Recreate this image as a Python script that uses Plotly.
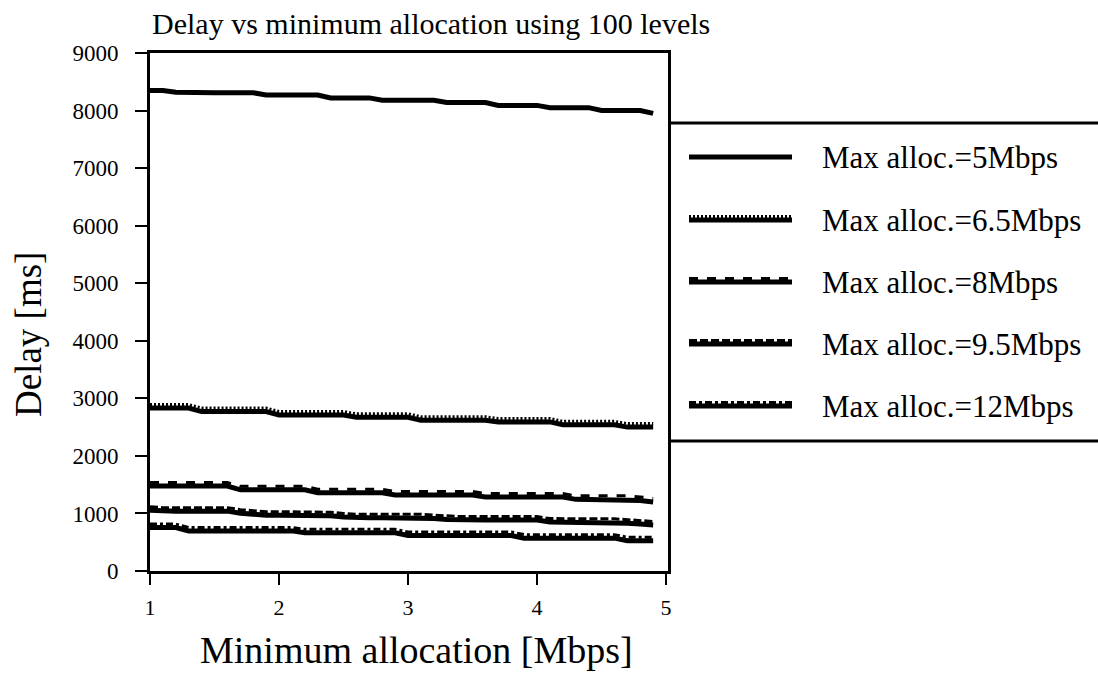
import plotly.graph_objects as go

# ---------------- data ----------------
min_alloc = [1.0, 1.1, 1.2, 1.3, 1.4, 1.5, 1.6, 1.7, 1.8, 1.9,
             2.0, 2.1, 2.2, 2.3, 2.4, 2.5, 2.6, 2.7, 2.8, 2.9,
             3.0, 3.1, 3.2, 3.3, 3.4, 3.5, 3.6, 3.7, 3.8, 3.9,
             4.0, 4.1, 4.2, 4.3, 4.4, 4.5, 4.6, 4.7, 4.8, 4.9]

delay_5 = [8350, 8350, 8320, 8310, 8310, 8310, 8310, 8310, 8310, 8270,
           8270, 8270, 8270, 8270, 8220, 8220, 8220, 8220, 8180, 8180,
           8180, 8180, 8180, 8140, 8140, 8140, 8140, 8090, 8090, 8090,
           8090, 8050, 8050, 8050, 8050, 8000, 8000, 8000, 8000, 7950]

delay_6_5 = [2830, 2830, 2830, 2830, 2770, 2770, 2770, 2770, 2770, 2770,
             2710, 2710, 2710, 2710, 2710, 2710, 2670, 2670, 2670, 2670,
             2670, 2620, 2620, 2620, 2620, 2620, 2620, 2590, 2590, 2590,
             2590, 2590, 2540, 2540, 2540, 2540, 2540, 2500, 2500, 2500]

delay_8 = [1475, 1475, 1475, 1475, 1475, 1475, 1475, 1410, 1410, 1410,
           1410, 1410, 1410, 1360, 1360, 1360, 1360, 1360, 1360, 1320,
           1320, 1320, 1320, 1320, 1320, 1320, 1285, 1285, 1285, 1285,
           1285, 1285, 1285, 1245, 1245, 1245, 1245, 1245, 1225, 1200]

delay_9_5 = [1055, 1040, 1040, 1040, 1040, 1040, 1040, 1005, 985, 970,
             970, 970, 970, 970, 960, 940, 926, 926, 926, 926,
             926, 926, 910, 895, 886, 886, 886, 886, 886, 886,
             886, 850, 846, 846, 846, 846, 846, 830, 815, 800]

delay_12 = [754, 754, 754, 697, 697, 697, 697, 697, 697, 697,
            697, 697, 663, 663, 663, 663, 663, 663, 663, 663,
            617, 617, 617, 617, 617, 617, 617, 617, 617, 571,
            571, 571, 571, 571, 571, 571, 571, 526, 526, 526]

series_names = ["Max alloc.=5Mbps", "Max alloc.=6.5Mbps", "Max alloc.=8Mbps",
                "Max alloc.=9.5Mbps", "Max alloc.=12Mbps"]
series_values = [delay_5, delay_6_5, delay_8, delay_9_5, delay_12]

x_ticks = [1, 2, 3, 4, 5]

# ---------------- styling ----------------
FONT = "Liberation Serif, Times New Roman, serif"
dash_styles = [None, "2px,2px", "9px,9px", "8px,3px", "7px,3px,3px,3px"]
Y_MAX = 9000
PLOT_H = 518
MARK_SHIFT_PX = 3.5
mark_shift = MARK_SHIFT_PX * Y_MAX / PLOT_H

fig = go.Figure()
for name, vals, dash in zip(series_names, series_values, dash_styles):
    fig.add_trace(go.Scatter(x=min_alloc, y=vals, mode="lines", name=name,
                             line=dict(color="black", width=5),
                             showlegend=False, hoverinfo="x+y+name"))
    if dash is not None:
        fig.add_trace(go.Scatter(x=min_alloc, y=[v + mark_shift for v in vals],
                                 mode="lines", name=name,
                                 line=dict(color="black", width=3, dash=dash),
                                 showlegend=False, hoverinfo="skip"))

L, R, T, B = 150, 430, 53, 110
W, H = 1098, 681
plot_w = W - L - R


def px_to_xp(px):
    return (px - L) / plot_w


def py_to_yp(py):
    return (H - B - py) / PLOT_H


shapes = []
annotations = []
# legend frame (top and bottom rules)
for py in (123, 441):
    shapes.append(dict(type="line", xref="paper", yref="paper",
                       x0=1.0, x1=px_to_xp(W + 5), y0=py_to_yp(py), y1=py_to_yp(py),
                       line=dict(color="black", width=3)))

legend_ys = [157, 220, 282, 344, 406]
for name, dash, ly in zip(series_names, dash_styles, legend_ys):
    yp = py_to_yp(ly)
    shapes.append(dict(type="line", xref="paper", yref="paper",
                       x0=px_to_xp(689), x1=px_to_xp(792), y0=yp, y1=yp,
                       line=dict(color="black", width=5)))
    if dash is not None:
        shapes.append(dict(type="line", xref="paper", yref="paper",
                           ysizemode="pixel", yanchor=yp,
                           x0=px_to_xp(689), x1=px_to_xp(792),
                           y0=MARK_SHIFT_PX, y1=MARK_SHIFT_PX,
                           line=dict(color="black", width=3, dash=dash)))
    annotations.append(dict(text=name, xref="paper", yref="paper",
                            x=px_to_xp(820), y=yp, xanchor="left", yanchor="middle",
                            showarrow=False, font=dict(family=FONT, size=31, color="black")))

# title
annotations.append(dict(text="Delay vs minimum allocation using 100 levels",
                        xref="paper", yref="paper", x=0, y=1, xanchor="left",
                        yanchor="bottom", yshift=11, showarrow=False,
                        font=dict(family=FONT, size=30, color="black")))
# axis titles
annotations.append(dict(text="Delay [ms]", xref="paper", yref="paper",
                        x=0, xshift=-(L - 28), y=py_to_yp(335),
                        xanchor="center", yanchor="middle", textangle=-90,
                        showarrow=False, font=dict(family=FONT, size=37, color="black")))
annotations.append(dict(text="Minimum allocation [Mbps]", xref="paper", yref="paper",
                        x=px_to_xp(416), y=py_to_yp(650),
                        xanchor="center", yanchor="middle",
                        showarrow=False, font=dict(family=FONT, size=38, color="black")))

fig.update_layout(
    width=W, height=H,
    margin=dict(l=L, r=R, t=T, b=B),
    paper_bgcolor="white", plot_bgcolor="white",
    font=dict(family=FONT, color="black"),
    shapes=shapes, annotations=annotations,
    xaxis=dict(range=[1, 5.015], tickvals=x_ticks, ticks="outside", ticklen=11,
               tickwidth=2, tickcolor="black", showline=True, linewidth=3,
               linecolor="black", mirror=True, showgrid=False, zeroline=False,
               tickfont=dict(family=FONT, size=22, color="black"),
               ticklabelstandoff=4),
    yaxis=dict(range=[0, Y_MAX], dtick=1000, ticks="outside", ticklen=12,
               tickwidth=2, tickcolor="black", showline=True, linewidth=3,
               linecolor="black", mirror=True, showgrid=False, zeroline=False,
               tickfont=dict(family=FONT, size=23, color="black"),
               ticklabelstandoff=12),
)

fig.write_html("out.html")
